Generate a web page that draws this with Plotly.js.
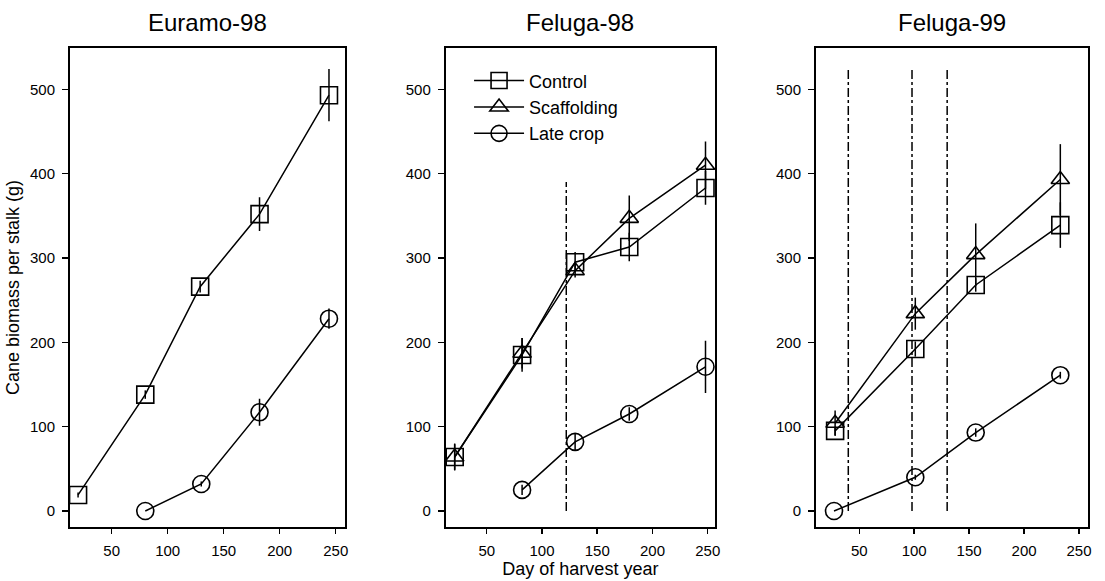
<!DOCTYPE html>
<html>
<head>
<meta charset="utf-8">
<script src="https://cdn.plot.ly/plotly-3.0.1.min.js"></script>
<style>html,body{margin:0;padding:0;background:#fff;}#chart{width:1105px;height:581px;}</style>
</head>
<body>
<div id="chart"></div>
<script>
// ---- Data ----
const panelTitles = ["Euramo-98", "Feluga-98", "Feluga-99"];
const seriesNames = ["Control", "Scaffolding", "Late crop"];
const yTickVals = [0, 100, 200, 300, 400, 500];
const xTickVals = [50, 100, 150, 200, 250];

// Euramo-98
const euramoDays = [20, 80, 129, 182, 244];
const euramoControl = [19, 138, 266, 352, 493];
const euramoControlErr = [3, 5, 7, 20, 31];
const euramoLateDays = [80, 130, 182, 244];
const euramoLate = [0, 32, 117, 228];
const euramoLateErr = [0, 3, 16, 12];

// Feluga-98
const f98Days = [21, 82, 130, 179, 248];
const f98Control = [64, 185, 295, 313, 383];
const f98ControlErr = [16, 20, 12, 17, 20];
const f98Scaff = [64, 187, 285, 347, 410];
const f98ScaffErr = [15, 18, 8, 27, 28];
const f98LateDays = [82, 130, 179, 248];
const f98Late = [25, 82, 115, 171];
const f98LateErr = [6, 10, 8, 31];
const f98EventDays = [122];
const f98EventTop = 390;

// Feluga-99
const f99Days = [28, 101, 156, 233];
const f99Control = [95, 192, 268, 339];
const f99ControlErr = [5, 9, 8, 27];
const f99Scaff = [104, 234, 304, 393];
const f99ScaffErr = [15, 19, 37, 42];
const f99LateDays = [27, 101, 156, 233];
const f99Late = [0, 40, 93, 161];
const f99LateErr = [0, 3, 5, 4];
const f99EventDays = [40, 98, 130];
const f99EventTop = 525;

// ---- Styles ----
const FONT = "Liberation Sans, Arial, Helvetica, sans-serif";
const symbols = {"Control": "square-open", "Scaffolding": "triangle-up-open", "Late crop": "circle-open"};
const sizes = {"Control": 17, "Scaffolding": 16, "Late crop": 17};

function series(name, x, y, err, xa, ya, showLegend) {
  return {
    type: "scatter", mode: "lines+markers", name: name,
    x: x, y: y, xaxis: xa, yaxis: ya, showlegend: showLegend,
    legendgroup: name,
    line: {color: "black", width: 1.5},
    marker: {symbol: symbols[name], size: sizes[name], color: "black", line: {width: 1.6, color: "black"}},
    error_y: {type: "data", array: err, visible: true, color: "black", thickness: 1.5, width: 0},
    hoverinfo: "x+y+name"
  };
}

const traces = [
  series(seriesNames[0], euramoDays, euramoControl, euramoControlErr, "x", "y", false),
  series(seriesNames[2], euramoLateDays, euramoLate, euramoLateErr, "x", "y", false),
  series(seriesNames[0], f98Days, f98Control, f98ControlErr, "x2", "y2", true),
  series(seriesNames[1], f98Days, f98Scaff, f98ScaffErr, "x2", "y2", true),
  series(seriesNames[2], f98LateDays, f98Late, f98LateErr, "x2", "y2", true),
  series(seriesNames[0], f99Days, f99Control, f99ControlErr, "x3", "y3", false),
  series(seriesNames[1], f99Days, f99Scaff, f99ScaffErr, "x3", "y3", false),
  series(seriesNames[2], f99LateDays, f99Late, f99LateErr, "x3", "y3", false)
];

function xAxis(domain, range, anchor) {
  return {
    domain: domain, range: range, anchor: anchor,
    tickvals: xTickVals, ticks: "outside", ticklen: 5, tickwidth: 1.5, tickcolor: "black",
    showline: true, linecolor: "black", linewidth: 2, mirror: true,
    showgrid: false, zeroline: false, ticklabelstandoff: 4,
    tickfont: {family: FONT, size: 15, color: "black"}
  };
}
function yAxis(anchor) {
  return {
    domain: [0, 1], range: [-19, 549], anchor: anchor,
    tickvals: yTickVals, ticks: "outside", ticklen: 6, tickwidth: 1.5, tickcolor: "black",
    showline: true, linecolor: "black", linewidth: 2, mirror: true,
    showgrid: false, zeroline: false, ticklabelstandoff: 4,
    tickfont: {family: FONT, size: 15, color: "black"}
  };
}

const shapes = [];
f98EventDays.forEach(d => shapes.push({type: "line", xref: "x2", yref: "y2", x0: d, x1: d, y0: 0, y1: f98EventTop,
  line: {color: "black", width: 1.5, dash: "dashdot"}}));
f99EventDays.forEach(d => shapes.push({type: "line", xref: "x3", yref: "y3", x0: d, x1: d, y0: 0, y1: f99EventTop,
  line: {color: "black", width: 1.5, dash: "dashdot"}}));

const xrefs = ["x domain", "x2 domain", "x3 domain"];
const annotations = panelTitles.map((t, i) => ({
  text: t, xref: xrefs[i], x: 0.5, yref: "paper", y: 1.054, yanchor: "middle", xanchor: "center",
  showarrow: false, font: {family: FONT, size: 24, color: "black"}
}));

const layout = {
  width: 1105, height: 581,
  margin: {l: 70, r: 17, t: 48, b: 54},
  paper_bgcolor: "white", plot_bgcolor: "white",
  font: {family: FONT, color: "black"},
  xaxis: xAxis([0, 0.2697], [12.8, 257.9], "y"),
  xaxis2: Object.assign(xAxis([0.3691, 0.6336], [12.9, 256.6], "y2"),
    {title: {text: "Day of harvest year", font: {family: FONT, size: 18, color: "black"}, standoff: 4}}),
  xaxis3: xAxis([0.7328, 1], [10.6, 258.2], "y3"),
  yaxis: Object.assign(yAxis("x"),
    {title: {text: "Cane biomass per stalk (g)", font: {family: FONT, size: 18, color: "black"}, standoff: 6}}),
  yaxis2: yAxis("x2"),
  yaxis3: yAxis("x3"),
  shapes: shapes,
  annotations: annotations,
  showlegend: true,
  legend: {
    x: 0.392, y: 0.97, xanchor: "left", yanchor: "top",
    bgcolor: "rgba(0,0,0,0)", borderwidth: 0,
    font: {family: FONT, size: 18, color: "black"},
    traceorder: "normal", tracegroupgap: 3, itemwidth: 50
  }
};

Plotly.newPlot("chart", traces, layout, {staticPlot: true, displayModeBar: false});
</script>
</body>
</html>
